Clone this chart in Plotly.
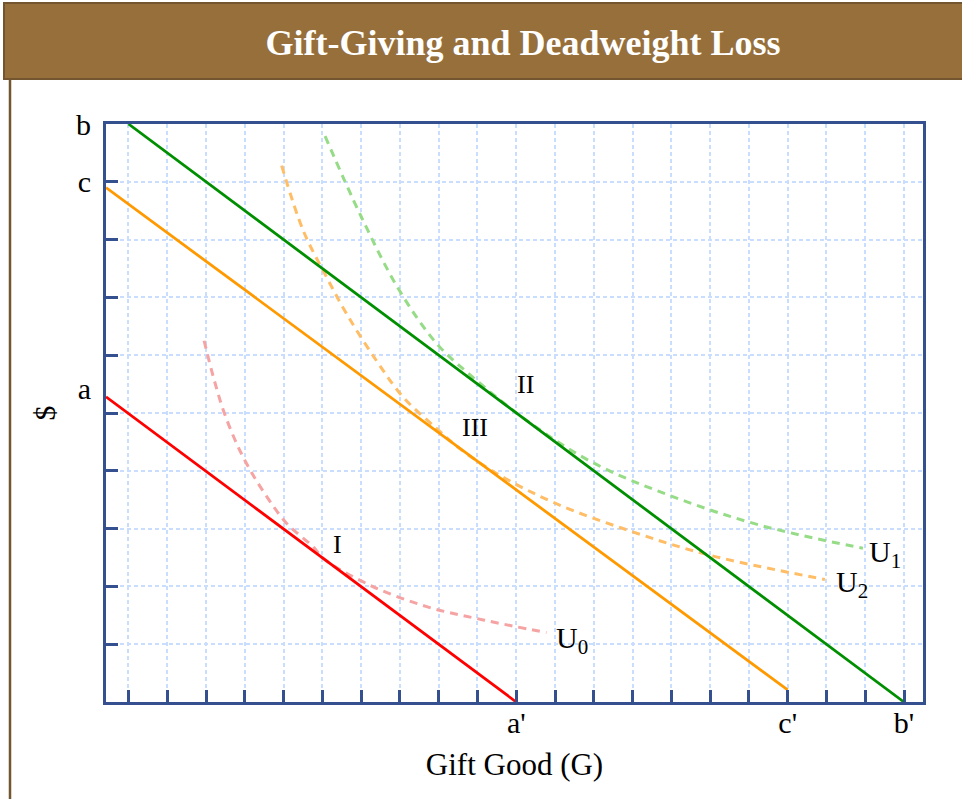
import plotly.graph_objects as go

# ---------------- data ----------------
# budget lines (x = gift good, y = $)
budget_green_x = [0, 20]
budget_green_y = [10, 0]
budget_orange_x = [-0.58, 17]
budget_orange_y = [8.9, 0.21]
budget_red_x = [-0.58, 10]
budget_red_y = [5.28, 0]

# indifference curves
u1_x = [5.07, 6.00, 6.96, 7.95, 8.81, 10.27, 11.98, 14.05, 16.28, 18.94]
u1_y = [9.79, 8.40, 7.15, 6.20, 5.66, 4.87, 4.14, 3.55, 3.06, 2.66]
u2_x = [3.95, 4.51, 5.07, 5.63, 6.40, 7.09, 7.95, 8.55, 9.58, 11.04, 13.02, 14.99, 17.96]
u2_y = [9.28, 8.15, 7.40, 6.71, 5.90, 5.27, 4.73, 4.38, 3.92, 3.43, 2.94, 2.54, 2.12]
u0_x = [1.95, 2.19, 2.45, 2.79, 3.14, 3.57, 4.08, 4.77, 5.03, 6.23, 7.69, 9.15, 10.78]
u0_y = [6.25, 5.62, 5.04, 4.47, 4.01, 3.55, 3.09, 2.68, 2.48, 2.02, 1.65, 1.42, 1.20]

# tick labels
x_tick_vals = list(range(0, 21))
y_tick_vals = list(range(1, 10))
x_label_vals = [10, 17, 20]
x_label_text = ["a'", "c'", "b'"]
y_label_vals = [10, 9, 5.42]
y_label_text = ["b", "c", "a"]

# point labels
point_labels = ["I", "II", "III"]
point_x = [5.38, 10.25, 8.94]
point_y = [2.72, 5.49, 4.75]
curve_labels = ["U<sub>1</sub>", "U<sub>2</sub>", "U<sub>0</sub>"]
curve_label_x = [19.05, 18.2, 10.98]
curve_label_y = [2.56, 2.05, 1.08]

# ---------------- layout constants ----------------
W, H = 962, 799
L, R, T, B = 106, 39, 124, 97
PW, PH = W - L - R, H - T - B
SERIF = "Liberation Serif"
FRAME = "#34508f"
BROWN = "#976f3b"
BROWN_DARK = "#735530"


def px_x(px):
    return (px - L) / PW


def px_y(py):
    return (H - B - py) / PH


fig = go.Figure()

dash_style = "8px,6px"
fig.add_trace(go.Scatter(x=u1_x, y=u1_y, mode="lines", line=dict(color="#96dc87", width=3, dash=dash_style, shape="spline"), hoverinfo="skip"))
fig.add_trace(go.Scatter(x=u2_x, y=u2_y, mode="lines", line=dict(color="#ffbd66", width=3, dash=dash_style, shape="spline"), hoverinfo="skip"))
fig.add_trace(go.Scatter(x=u0_x, y=u0_y, mode="lines", line=dict(color="#f5a3a3", width=3, dash=dash_style, shape="spline"), hoverinfo="skip"))

fig.add_trace(go.Scatter(x=budget_green_x, y=budget_green_y, mode="lines", line=dict(color="#008f00", width=2.8), hoverinfo="skip"))
fig.add_trace(go.Scatter(x=budget_orange_x, y=budget_orange_y, mode="lines", line=dict(color="#ff9900", width=2.8), hoverinfo="skip"))
fig.add_trace(go.Scatter(x=budget_red_x, y=budget_red_y, mode="lines", line=dict(color="#ff0000", width=2.8), hoverinfo="skip"))

# invisible trace to activate label axes
fig.add_trace(go.Scatter(x=[x_label_vals[0]], y=[1], xaxis="x2", yaxis="y2", mode="markers",
                         marker=dict(opacity=0), hoverinfo="skip"))

xr = [-0.58, 20.49]
yr = [0, 10.0]

fig.update_layout(
    width=W, height=H,
    margin=dict(l=L, r=R, t=T, b=B),
    paper_bgcolor="white", plot_bgcolor="white",
    showlegend=False,
    font=dict(family=SERIF, color="black"),
    title=dict(text="<b>Gift-Giving and Deadweight Loss</b>", x=523 / W, y=1 - 42 / H,
               xanchor="center", yanchor="middle", font=dict(family=SERIF, size=36, color="white")),
    xaxis=dict(range=xr, tickvals=x_tick_vals, showticklabels=False, ticks="inside", ticklen=12,
               tickwidth=3, tickcolor=FRAME, showline=True, linecolor=FRAME, linewidth=3, mirror=True,
               showgrid=True, gridcolor="#c9ddff", gridwidth=1.5, griddash="4px,3px", zeroline=False,
               title=dict(text="Gift Good (G)", font=dict(size=31, family=SERIF), standoff=50)),
    yaxis=dict(range=yr, tickvals=y_tick_vals, showticklabels=False, ticks="inside", ticklen=12,
               tickwidth=3, tickcolor=FRAME, showline=True, linecolor=FRAME, linewidth=3, mirror=True,
               showgrid=True, gridcolor="#c9ddff", gridwidth=1.5, griddash="4px,3px", zeroline=False,
               title=dict(text="$", font=dict(size=30, family=SERIF), standoff=39)),
    xaxis2=dict(range=xr, overlaying="x", side="bottom", tickvals=x_label_vals, ticktext=x_label_text,
                ticks="", showgrid=False, zeroline=False, showline=False,
                tickfont=dict(size=30, family=SERIF), ticklabelstandoff=0),
    yaxis2=dict(range=yr, overlaying="y", side="left", tickvals=y_label_vals, ticktext=y_label_text,
                ticks="", showgrid=False, zeroline=False, showline=False,
                tickfont=dict(size=30, family=SERIF), ticklabelstandoff=14),
)

for t, x, y in zip(point_labels, point_x, point_y):
    fig.add_annotation(x=x, y=y, text=t, showarrow=False, font=dict(size=26, family=SERIF))
for t, x, y in zip(curve_labels, curve_label_x, curve_label_y):
    fig.add_annotation(x=x, y=y, text=t, showarrow=False, xanchor="left", font=dict(size=30, family=SERIF))

# header bar and panel border
fig.add_shape(type="rect", xref="paper", yref="paper", x0=px_x(4), x1=px_x(975), y0=px_y(79), y1=px_y(3),
              fillcolor=BROWN, line=dict(color=BROWN_DARK, width=2), layer="below")
fig.add_shape(type="line", xref="paper", yref="paper", x0=px_x(10), x1=px_x(10), y0=px_y(79), y1=px_y(805),
              line=dict(color=BROWN_DARK, width=2.5))

fig.write_html("out.html", config={"displayModeBar": False},
               post_script="document.body.style.margin='0px';document.body.style.overflow='hidden';")
